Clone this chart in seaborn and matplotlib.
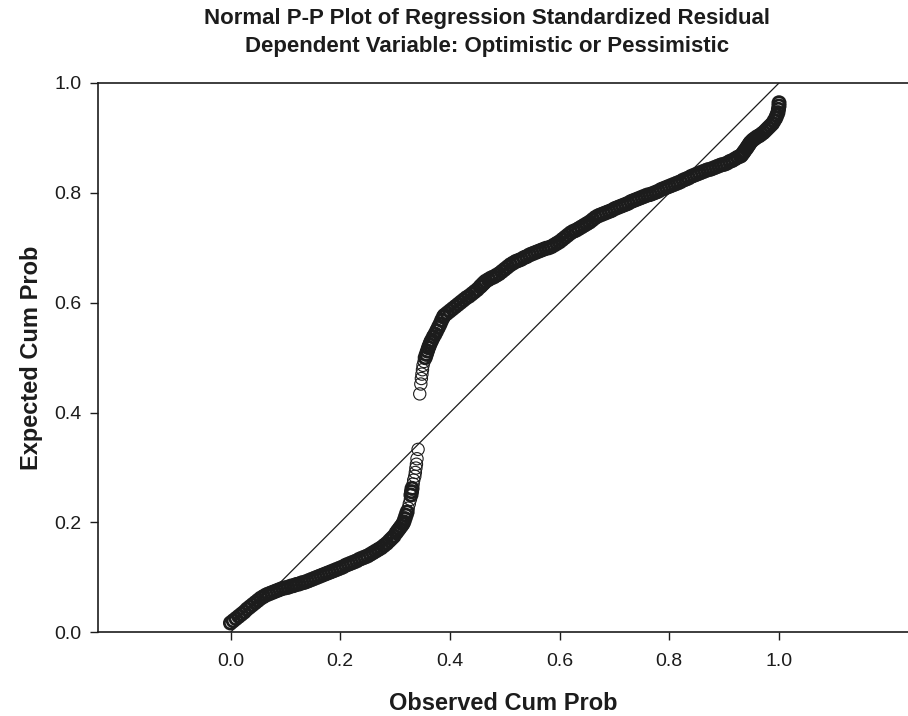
import matplotlib
matplotlib.use("Agg")
import matplotlib.pyplot as plt
import numpy as np
import pandas as pd
import seaborn as sns

# Observed vs. expected cumulative probabilities, lower cluster of residuals
obs_lower = [
    0.000, 0.005, 0.010, 0.015, 0.020, 0.025, 0.030, 0.035, 0.040, 0.045,
    0.050, 0.055, 0.060, 0.065, 0.070, 0.075, 0.080, 0.085, 0.090, 0.095,
    0.100, 0.105, 0.110, 0.115, 0.120, 0.125, 0.130, 0.135, 0.140, 0.145,
    0.150, 0.155, 0.160, 0.165, 0.170, 0.175, 0.180, 0.185, 0.190, 0.195,
    0.200, 0.205, 0.210, 0.215, 0.220, 0.225, 0.230, 0.235, 0.240, 0.245,
    0.250, 0.255, 0.260, 0.265, 0.270, 0.275, 0.280, 0.285, 0.290, 0.294,
    0.298, 0.302, 0.305, 0.308, 0.311, 0.314, 0.316, 0.318, 0.320, 0.322,
    0.324, 0.326, 0.328, 0.329, 0.330, 0.331, 0.333, 0.334, 0.336, 0.337,
    0.338, 0.339, 0.340, 0.342,
]
exp_lower = [
    0.017, 0.021, 0.025, 0.029, 0.033, 0.037, 0.042, 0.046, 0.050, 0.054,
    0.058, 0.062, 0.065, 0.068, 0.070, 0.072, 0.074, 0.076, 0.078, 0.080,
    0.081, 0.082, 0.084, 0.085, 0.087, 0.088, 0.090, 0.091, 0.093, 0.095,
    0.097, 0.099, 0.101, 0.103, 0.105, 0.107, 0.109, 0.111, 0.113, 0.115,
    0.117, 0.119, 0.122, 0.124, 0.126, 0.128, 0.130, 0.133, 0.135, 0.137,
    0.139, 0.142, 0.145, 0.148, 0.151, 0.154, 0.158, 0.162, 0.167, 0.171,
    0.175, 0.181, 0.185, 0.189, 0.193, 0.197, 0.201, 0.207, 0.213, 0.219,
    0.226, 0.234, 0.242, 0.250, 0.256, 0.262, 0.270, 0.277, 0.284, 0.291,
    0.299, 0.306, 0.316, 0.333,
]

# Upper cluster of residuals
obs_upper = [
    0.345, 0.347, 0.348, 0.349, 0.350, 0.351, 0.353, 0.355, 0.357, 0.359,
    0.361, 0.363, 0.365, 0.367, 0.370, 0.373, 0.376, 0.379, 0.382, 0.385,
    0.388, 0.390, 0.395, 0.400, 0.405, 0.410, 0.415, 0.420, 0.425, 0.430,
    0.435, 0.440, 0.445, 0.450, 0.455, 0.457, 0.460, 0.462, 0.465, 0.470,
    0.475, 0.480,
    0.485, 0.490, 0.495, 0.500, 0.505, 0.510, 0.515, 0.520, 0.525, 0.530,
    0.535, 0.540, 0.545, 0.550, 0.555, 0.560, 0.565, 0.570, 0.575, 0.580,
    0.585, 0.590, 0.595, 0.600, 0.605, 0.610, 0.615, 0.620, 0.625, 0.630,
    0.635, 0.640, 0.645, 0.650, 0.655, 0.660, 0.665, 0.670, 0.675, 0.680,
    0.685, 0.690, 0.695, 0.700, 0.705, 0.710, 0.715, 0.720, 0.725, 0.730,
    0.735, 0.740, 0.745, 0.750, 0.755, 0.760, 0.765, 0.770, 0.775, 0.780,
    0.785, 0.790, 0.795, 0.800, 0.805, 0.810, 0.815, 0.820, 0.825, 0.830,
    0.835, 0.840, 0.845, 0.850, 0.855, 0.860, 0.865, 0.870, 0.875, 0.880,
    0.885, 0.890, 0.895, 0.900, 0.905, 0.910, 0.915, 0.920, 0.925, 0.930,
    0.932, 0.935, 0.937, 0.940, 0.942, 0.944, 0.946, 0.948, 0.952, 0.956,
    0.960, 0.964, 0.968, 0.972,
    0.976, 0.980, 0.984, 0.988, 0.991, 0.994, 0.996, 0.998, 0.999, 1.000,
    1.000,
]
exp_upper = [
    0.434, 0.452, 0.462, 0.470, 0.478, 0.486, 0.493, 0.500, 0.506, 0.512,
    0.518, 0.523, 0.528, 0.532, 0.538, 0.543, 0.549, 0.555, 0.561, 0.568,
    0.574, 0.577, 0.581, 0.585, 0.589, 0.593, 0.597, 0.601, 0.605, 0.609,
    0.612, 0.616, 0.620, 0.624, 0.629, 0.631, 0.634, 0.636, 0.639, 0.642,
    0.645, 0.647,
    0.650, 0.653, 0.657, 0.661, 0.665, 0.669, 0.672, 0.675, 0.677, 0.679,
    0.682, 0.684, 0.687, 0.689, 0.691, 0.693, 0.695, 0.697, 0.699, 0.700,
    0.702, 0.705, 0.708, 0.711, 0.715, 0.719, 0.723, 0.727, 0.730, 0.732,
    0.735, 0.738, 0.741, 0.744, 0.747, 0.751, 0.755, 0.758, 0.760, 0.762,
    0.764, 0.766, 0.768, 0.771, 0.773, 0.775, 0.777, 0.779, 0.781, 0.784,
    0.786, 0.788, 0.790, 0.792, 0.794, 0.796, 0.797, 0.799, 0.801, 0.803,
    0.806, 0.808, 0.810, 0.812, 0.814, 0.816, 0.818, 0.820, 0.823, 0.825,
    0.827, 0.830, 0.832, 0.834, 0.836, 0.838, 0.840, 0.842, 0.843, 0.845,
    0.847, 0.849, 0.851, 0.852, 0.854, 0.857, 0.859, 0.862, 0.865, 0.867,
    0.869, 0.873, 0.876, 0.880, 0.883, 0.886, 0.889, 0.892, 0.896, 0.899,
    0.902, 0.904, 0.907, 0.910,
    0.914, 0.918, 0.922, 0.926, 0.931, 0.936, 0.941, 0.946, 0.952, 0.958,
    0.964,
]

# Reference line for a perfect normal fit
diag = [0.0, 1.0]

x_ticks = [0.0, 0.2, 0.4, 0.6, 0.8, 1.0]
y_ticks = [0.0, 0.2, 0.4, 0.6, 0.8, 1.0]

title = "Normal P-P Plot of Regression Standardized Residual\nDependent Variable: Optimistic or Pessimistic"
x_label = "Observed Cum Prob"
y_label = "Expected Cum Prob"

INK = "#1c1c1c"

sns.set_style("ticks")
plt.rcParams["font.family"] = ["Liberation Sans", "DejaVu Sans"]


def ring_widths(xs, ys, px_per_unit=548.5, gap=3.8, thin=0.8, thick=2.0):
    """Where markers pile up into a band, use heavier rings so the
    overlapping circles merge; isolated circles keep a fine outline."""
    px = np.asarray(xs) * px_per_unit
    py = np.asarray(ys) * px_per_unit
    d = np.hypot(np.diff(px), np.diff(py))
    nearest = np.minimum(np.r_[np.inf, d], np.r_[d, np.inf])
    return np.where(nearest < gap, thick, thin)


df = pd.DataFrame({
    "obs": obs_lower + obs_upper,
    "exp": exp_lower + exp_upper,
})
widths = np.r_[ring_widths(obs_lower, exp_lower), ring_widths(obs_upper, exp_upper)]

fig = plt.figure(figsize=(9.08, 7.16), dpi=100)
ax = fig.add_axes([98 / 908, (716 - 632.3) / 716, (908 - 98) / 908, (632.3 - 83) / 716])

sns.lineplot(x=diag, y=diag, ax=ax, color=INK, linewidth=0.9, zorder=1)
sns.scatterplot(data=df, x="obs", y="exp", ax=ax, marker="o", s=78,
                facecolor="none", edgecolor=INK, linewidth=1.0, zorder=2)
ax.collections[-1].set_linewidths(widths)

ax.set_xlim((98 - 230.5) / 548.5, (908 - 230.5) / 548.5)
ax.set_ylim(0.0, 1.0)
ax.set_xticks(x_ticks)
ax.set_yticks(y_ticks)
ax.set_xticklabels([f"{t:.1f}" for t in x_ticks])
ax.set_yticklabels([f"{t:.1f}" for t in y_ticks])

ax.tick_params(axis="both", direction="out", length=6, width=1.0, color=INK,
               labelsize=14, labelcolor=INK)
ax.tick_params(axis="x", pad=9)
ax.tick_params(axis="y", pad=6)

for side in ["left", "top", "bottom"]:
    ax.spines[side].set_color(INK)
    ax.spines[side].set_linewidth(1.2)
ax.spines["right"].set_visible(False)

ax.set_xlabel(x_label, fontsize=17, fontweight="bold", color=INK, labelpad=16)
ax.set_ylabel(y_label, fontsize=17, fontweight="bold", color=INK, labelpad=8)

fig.suptitle(title, fontsize=16, fontweight="bold", color=INK,
             x=487 / 908, y=1 - 8 / 716, va="top", linespacing=1.45)

fig.savefig("out.png", dpi=100)
